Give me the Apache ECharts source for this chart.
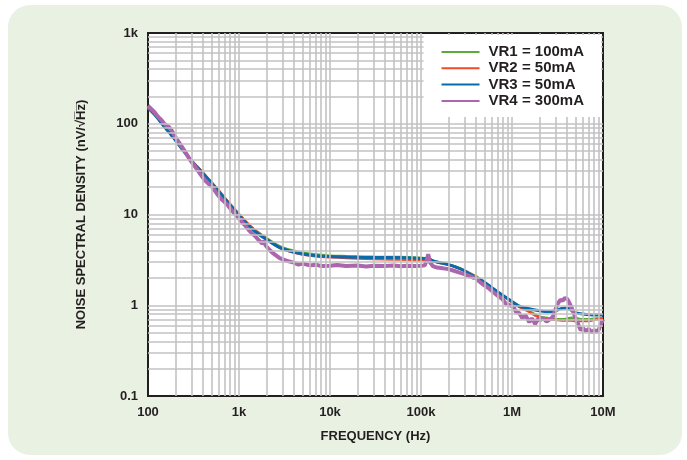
<!DOCTYPE html>
<html>
<head>
<meta charset="utf-8">
<script src="https://cdn.jsdelivr.net/npm/echarts@6/dist/echarts.min.js"></script>
<style>
  html, body { margin:0; padding:0; background:#ffffff; }
  #panel { position:absolute; left:8px; top:5px; width:674px; height:450px; background:#e9f1e3; border-radius:22px; }
  #chart { position:absolute; left:0; top:0; width:687px; height:460px; }
</style>
</head>
<body>
<div id="panel"></div>
<div id="chart"></div>
<script>
// ---- data ----
const seriesNames = ['VR1 = 100mA', 'VR2 = 50mA', 'VR3 = 50mA', 'VR4 = 300mA'];
const xTickLabels = ['100', '1k', '10k', '100k', '1M', '10M'];
const yTickLabels = ['0.1', '1', '10', '100', '1k'];

const freq = [100,120,150,200,250,300,400,500,600,700,800,1000,1200,1500,2000,2500,3000,4000,5000,7000,
  1e4,1.5e4,2e4,3e4,5e4,7e4,1e5,1.1e5,1.2e5,1.3e5,1.5e5,2e5,2.5e5,3e5,4e5,5e5,7e5,1e6,1.2e6,1.5e6,
  2e6,2.5e6,3e6,3.5e6,4e6,4.5e6,5e6,6e6,7e6,8e6,1e7];

const vr1 = [150,124,94,66,49.5,39.5,29,22.4,18.1,15.1,12.9,10,8.2,6.7,5.5,4.75,4.35,3.98,3.8,3.62,
  3.52,3.47,3.44,3.42,3.4,3.38,3.34,3.3,3.32,3.15,3.0,2.82,2.62,2.42,2.08,1.8,1.4,1.1,0.98,0.88,
  0.75,0.72,0.7,0.7,0.71,0.73,0.72,0.7,0.7,0.71,0.72];

const vr2 = [150,124,94,66,49.5,39.5,29,22.6,18.3,15.2,13,10.1,8.3,6.7,5.4,4.6,4.15,3.8,3.62,3.46,
  3.38,3.32,3.28,3.24,3.2,3.17,3.12,3.15,3.25,3.1,2.98,2.8,2.6,2.4,2.06,1.78,1.38,1.08,0.96,0.86,
  0.73,0.7,0.69,0.68,0.68,0.68,0.67,0.67,0.67,0.69,0.72];

const vr3 = [150,124,94,66,49,39,28.5,22,17.8,14.8,12.6,9.8,8.0,6.5,5.3,4.6,4.2,3.85,3.68,3.52,
  3.44,3.4,3.38,3.36,3.35,3.33,3.28,3.27,3.3,3.15,3.0,2.8,2.6,2.4,2.02,1.78,1.4,1.1,0.98,0.92,
  0.87,0.85,0.87,0.92,0.93,0.88,0.83,0.8,0.79,0.78,0.78];

const freq4 = [100,105,110,118,125,132,140,150,160,170,180,190,200,215,235,260,290,330,370,420,470,500,
  560,630,700,760,850,950,1050,1165,1300,1500,1650,1800,1900,1950,2100,2400,2800,3300,4000,4500,5000,
  6000,7000,8000,10000,12000,15000,20000,25000,30000,40000,50000,60000,70000,85000,100000,110000,115000,
  120000,125000,135000,150000,175000,200000,230000,260000,300000,340000,380000,400000,430000,480000,
  550000,620000,700000,780000,850000,950000,1050000,1100000,1200000,1300000,1400000,1550000,1650000,
  1800000,1900000,2000000,2200000,2400000,2600000,2800000,3000000,3200000,3400000,3600000,3800000,
  4000000,4200000,4500000,4800000,5100000,5400000,5700000,6000000,6500000,7000000,7500000,8000000,
  8500000,9000000,9500000,10000000];
const vr4 = [158,150,146,134,124,117,110,101,95,92,86,78,71,64,56,48,40,33.6,28.5,24,21.5,20.5,
  17.5,15,13.6,12.5,10.8,9.6,8.5,7.6,6.6,5.8,5.2,4.8,5.1,4.6,4.2,3.7,3.3,3.1,2.95,2.8,2.88,
  2.75,2.8,2.7,2.72,2.78,2.7,2.74,2.68,2.72,2.7,2.74,2.69,2.72,2.7,2.72,2.75,3.1,
  3.65,3.0,2.7,2.6,2.55,2.5,2.4,2.3,2.2,2.1,2.0,2.06,1.85,1.7,
  1.55,1.4,1.27,1.18,1.05,1.0,0.95,0.85,0.82,0.72,0.78,0.65,0.72,
  0.62,0.7,0.68,0.72,0.66,0.7,0.74,0.9,1.05,1.15,1.12,1.2,
  1.18,1.1,0.95,0.8,0.69,0.6,0.53,0.56,0.52,0.55,0.5,0.53,
  0.51,0.54,0.62,0.7];

const colors = ['#5aab3c', '#ef4b26', '#0b6aac', '#ac66ae'];

// ---- grid lines (log decades 1..9) ----
const gridX = [], gridY = [];
for (let d = 2; d < 7; d++) for (let k = 1; k < 10; k++) { const v = k * Math.pow(10, d); if (v > 100 && v < 1e7) gridX.push({xAxis: v}); }
for (let d = -1; d < 3; d++) for (let k = 1; k < 10; k++) { const v = k * Math.pow(10, d); if (v > 0.1 && v < 1000) gridY.push({yAxis: v}); }

const pair = (xs, ys) => xs.map((x, i) => [x, ys[i]]);
const fmtX = v => { const e = Math.round(Math.log10(v)); return xTickLabels[e - 2]; };
const fmtY = v => { const e = Math.round(Math.log10(v)); return yTickLabels[e + 1]; };

const font = 'Liberation Sans';
const chart = echarts.init(document.getElementById('chart'), null, {renderer: 'canvas'});
chart.setOption({
  backgroundColor: 'transparent',
  animation: false,
  grid: { left: 148, right: 84, top: 33, bottom: 64, show: true, backgroundColor: '#ffffff', borderColor: '#231f20', borderWidth: 2 },
  xAxis: {
    type: 'log', logBase: 10, min: 100, max: 1e7, interval: 1,
    name: 'FREQUENCY (Hz)', nameLocation: 'middle', nameGap: 34,
    nameTextStyle: { fontFamily: font, fontWeight: 'bold', fontSize: 13, color: '#231f20' },
    axisLine: { show: false }, axisTick: { show: false }, splitLine: { show: false },
    axisLabel: { formatter: fmtX, margin: 10, fontFamily: font, fontWeight: 'bold', fontSize: 13, color: '#231f20' }
  },
  yAxis: {
    type: 'log', logBase: 10, min: 0.1, max: 1000, interval: 1,
    name: 'NOISE SPECTRAL DENSITY (nV/\u221AH\u0305z\u0305)', nameLocation: 'middle', nameGap: 60,
    nameTextStyle: { fontFamily: font, fontWeight: 'bold', fontSize: 13, color: '#231f20' },
    axisLine: { show: false }, axisTick: { show: false }, splitLine: { show: false },
    axisLabel: { formatter: fmtY, margin: 10, fontFamily: font, fontWeight: 'bold', fontSize: 13, color: '#231f20' }
  },
  legend: {
    data: seriesNames, orient: 'vertical', right: 86, top: 35, z: 20,
    backgroundColor: '#ffffff', padding: [9, 17, 8, 18],
    icon: 'rect', itemWidth: 38, itemHeight: 2, itemGap: 0.3,
    textStyle: { fontFamily: font, fontWeight: 'bold', fontSize: 15, lineHeight: 16, color: '#231f20', padding: [0, 0, 0, 4] }
  },
  series: [
    { type: 'line', name: '_grid', data: [], silent: true, z: 1,
      markLine: { silent: true, symbol: 'none', label: { show: false },
        lineStyle: { color: '#c2c2c2', width: 1.6, type: 'solid' }, data: gridX.concat(gridY) } },
    { type: 'line', name: seriesNames[0], data: pair(freq, vr1), showSymbol: false, symbol: 'none', smooth: 0.3,
      color: colors[0], lineStyle: { width: 2.5 }, z: 3 },
    { type: 'line', name: seriesNames[1], data: pair(freq, vr2), showSymbol: false, symbol: 'none', smooth: 0.3,
      color: colors[1], lineStyle: { width: 2.5 }, z: 3 },
    { type: 'line', name: seriesNames[2], data: pair(freq, vr3), showSymbol: false, symbol: 'none', smooth: 0.3,
      color: colors[2], lineStyle: { width: 3 }, z: 3 },
    { type: 'line', name: seriesNames[3], data: pair(freq4, vr4), showSymbol: false, symbol: 'none',
      color: colors[3], lineStyle: { width: 4, join: 'bevel' }, z: 3 }
  ]
});
</script>
</body>
</html>
